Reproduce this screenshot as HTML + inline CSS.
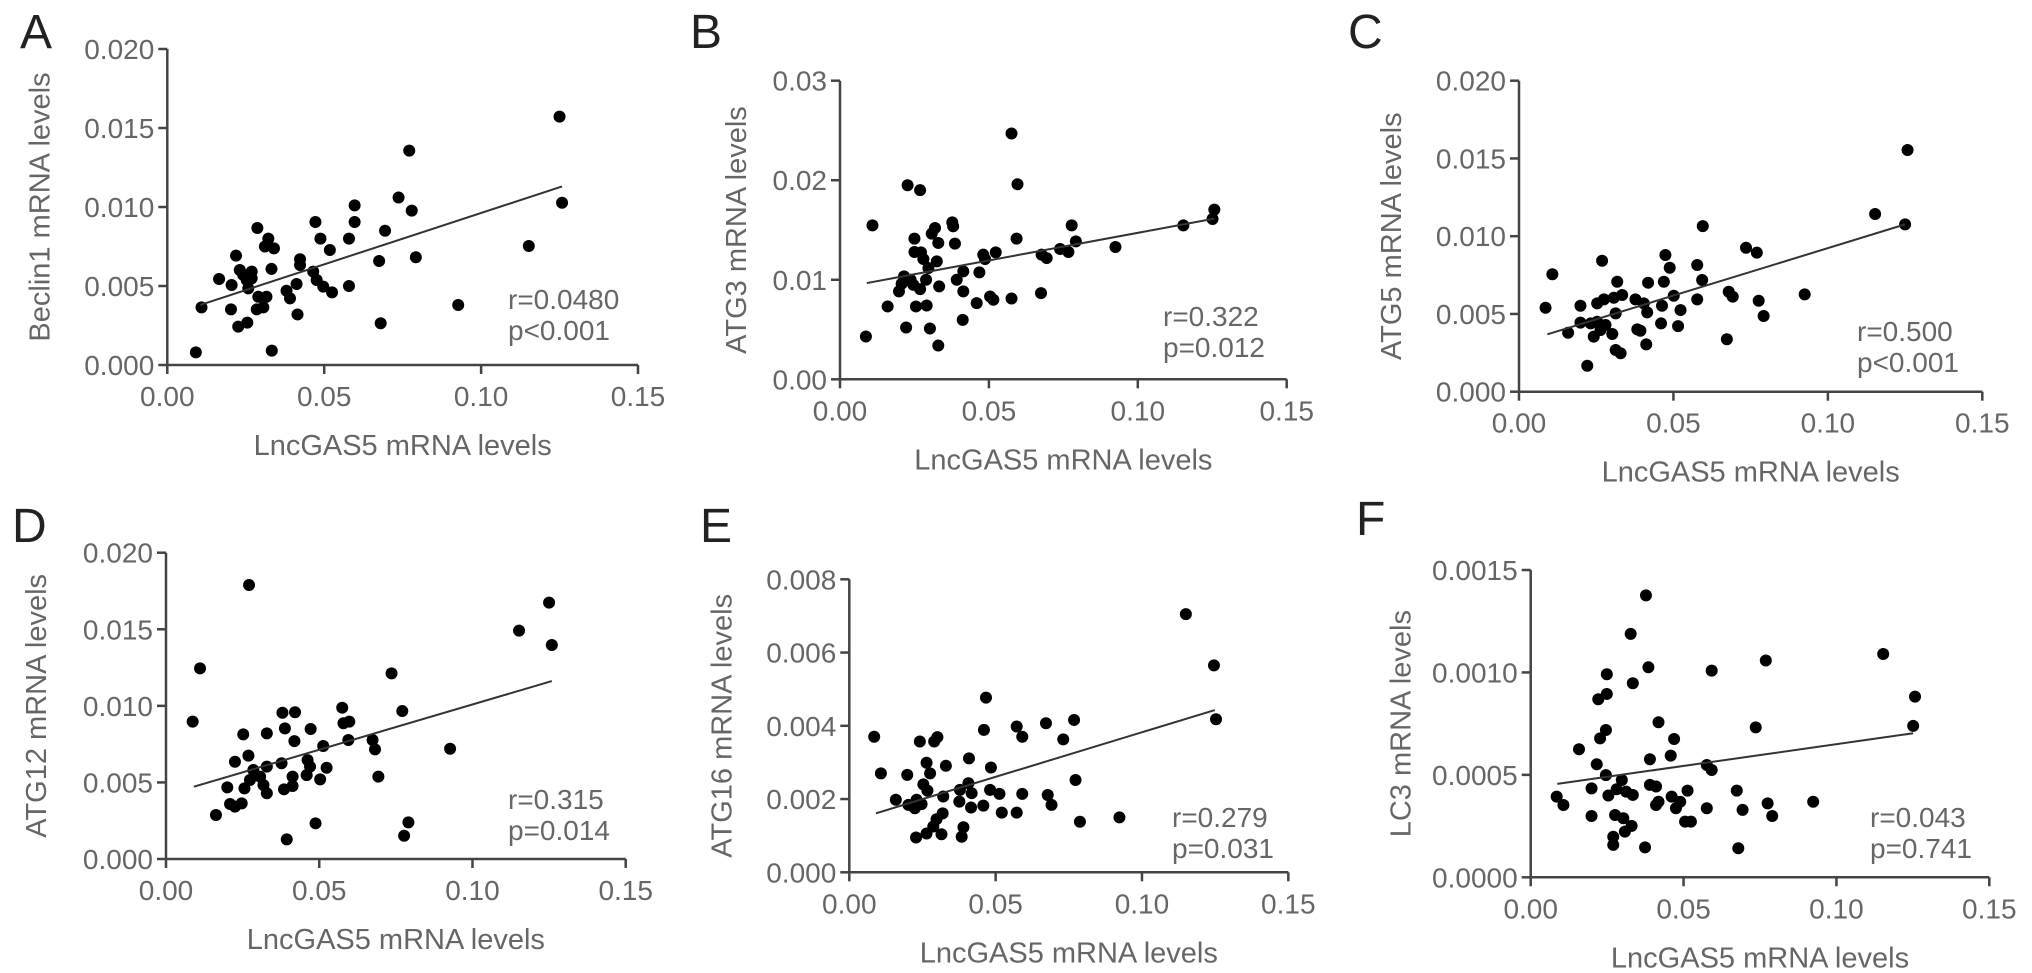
<!DOCTYPE html>
<html><head><meta charset="utf-8"><style>
html,body{margin:0;padding:0;background:#fff;}
svg{display:block;font-family:"Liberation Sans",Arial,sans-serif;}
</style></head><body>
<svg id="fig" width="2032" height="973" viewBox="0 0 2032 973" xmlns="http://www.w3.org/2000/svg"></svg>
<script>
// ---------- data ----------
const xTickLabels = ["0.00","0.05","0.10","0.15"];
const xTickValues = [0, 0.05, 0.10, 0.15];

const aX=[0.125,0.0771,0.1258,0.0737,0.0779,0.0597,0.0597,0.0472,0.0694,0.0287,0.0488,0.0579,0.0518,0.1152,0.0792,0.0675,0.0322,0.0311,0.0340,0.0219,0.0332,0.0423,0.0423,0.0465,0.0231,0.0269,0.0165,0.0205,0.0253,0.0258,0.0476,0.0497,0.0525,0.0579,0.0412,0.0380,0.0391,0.0316,0.0290,0.0109,0.0203,0.0285,0.0306,0.0415,0.0927,0.0226,0.0255,0.0680,0.0091,0.0333,0.0269,0.0242];
const aY=[0.01572,0.01357,0.01027,0.0106,0.00977,0.0101,0.00905,0.00905,0.0085,0.00867,0.0080,0.0080,0.00728,0.00753,0.00682,0.00658,0.0080,0.0075,0.00738,0.00692,0.00608,0.00669,0.00633,0.00591,0.00601,0.00591,0.00544,0.00506,0.00538,0.00485,0.00538,0.00496,0.0046,0.005,0.00513,0.0047,0.00422,0.00432,0.00432,0.00365,0.00352,0.00352,0.00365,0.0032,0.0038,0.00243,0.00268,0.00264,0.0008,0.00091,0.00548,0.0057];
const aFitX=[0.0105,0.1258]; const aFitY=[0.0038,0.0113];
const aTicks=["0.000","0.005","0.010","0.015","0.020"]; const aTickVals=[0,0.005,0.010,0.015,0.020];

const bX=[0.0576,0.0227,0.0269,0.0596,0.1257,0.1251,0.1153,0.0109,0.0377,0.0380,0.0778,0.0319,0.0308,0.0250,0.0593,0.0330,0.0386,0.0792,0.0925,0.0250,0.0272,0.0280,0.0739,0.0767,0.0677,0.0694,0.0481,0.0523,0.0487,0.0325,0.0297,0.0414,0.0468,0.0392,0.0215,0.0237,0.0289,0.0207,0.0246,0.0269,0.0333,0.0198,0.0414,0.0675,0.0459,0.0504,0.0515,0.0576,0.0160,0.0255,0.0291,0.0412,0.0222,0.0302,0.0087,0.0330];
const bY=[0.0247,0.0195,0.0190,0.0196,0.01705,0.0161,0.01547,0.01547,0.01577,0.01537,0.01547,0.0152,0.01463,0.01413,0.01413,0.0137,0.01363,0.01386,0.01329,0.01279,0.01275,0.01208,0.01309,0.01279,0.01252,0.01218,0.01252,0.01275,0.01208,0.01185,0.01118,0.01084,0.01074,0.0100,0.01034,0.0100,0.0100,0.0096,0.0095,0.00906,0.00933,0.00883,0.00883,0.00866,0.00765,0.00832,0.00799,0.00812,0.00732,0.00732,0.00742,0.00597,0.0052,0.0051,0.0043,0.00339];
const bFitX=[0.009,0.1257]; const bFitY=[0.00967,0.01614];
const bTicks=["0.00","0.01","0.02","0.03"]; const bTickVals=[0,0.01,0.02,0.03];

const cX=[0.1258,0.1153,0.1250,0.0595,0.0735,0.0770,0.0474,0.0269,0.0488,0.0577,0.0108,0.0593,0.0418,0.0469,0.0318,0.0679,0.0692,0.0925,0.0501,0.0577,0.0776,0.0334,0.0307,0.0275,0.0253,0.0377,0.0404,0.0463,0.0415,0.0523,0.0313,0.0086,0.0199,0.0792,0.0199,0.0232,0.0253,0.0280,0.0264,0.0302,0.0242,0.0159,0.0460,0.0515,0.0383,0.0393,0.0673,0.0412,0.0313,0.0329,0.0221];
const cY=[0.01554,0.01143,0.01076,0.01065,0.00926,0.00894,0.00879,0.00842,0.00797,0.00815,0.00755,0.00718,0.00701,0.00707,0.00707,0.00643,0.00611,0.00626,0.00617,0.00594,0.00585,0.00622,0.00604,0.00594,0.00568,0.00594,0.00568,0.00553,0.0051,0.00525,0.00504,0.0054,0.00553,0.00487,0.00444,0.00439,0.0045,0.00429,0.00397,0.00371,0.00354,0.00379,0.00439,0.00422,0.00401,0.00392,0.00337,0.00304,0.00268,0.00247,0.00167];
const cFitX=[0.0092,0.125]; const cFitY=[0.00369,0.01076];
const cTicks=["0.000","0.005","0.010","0.015","0.020"]; const cTickVals=[0,0.005,0.010,0.015,0.020];

const dX=[0.0271,0.1250,0.1152,0.1259,0.0111,0.0736,0.0771,0.0087,0.0380,0.0421,0.0575,0.0579,0.0598,0.0388,0.0472,0.0252,0.0329,0.0419,0.0595,0.0674,0.0682,0.0513,0.0927,0.0269,0.0225,0.0377,0.0462,0.0470,0.0524,0.0329,0.0285,0.0307,0.0459,0.0503,0.0693,0.0413,0.0274,0.0318,0.0200,0.0256,0.0385,0.0413,0.0329,0.0209,0.0247,0.0225,0.0163,0.0488,0.0791,0.0777,0.0394];
const dY=[0.01789,0.01674,0.01491,0.01397,0.01245,0.01212,0.00966,0.00897,0.00955,0.00958,0.00988,0.00886,0.00897,0.00853,0.00849,0.00814,0.0082,0.0077,0.00777,0.00777,0.00716,0.00738,0.0072,0.00675,0.00635,0.00625,0.00646,0.00603,0.00596,0.00603,0.00581,0.00538,0.00548,0.0052,0.00538,0.00538,0.00516,0.00483,0.00468,0.00461,0.00455,0.00477,0.00429,0.00359,0.00363,0.00342,0.00287,0.00233,0.00239,0.00152,0.00128];
const dFitX=[0.0091,0.1259]; const dFitY=[0.00472,0.01162];
const dTicks=["0.000","0.005","0.010","0.015","0.020"]; const dTickVals=[0,0.005,0.010,0.015,0.020];

const eX=[0.1150,0.1246,0.1253,0.0467,0.0085,0.0460,0.0572,0.0591,0.0672,0.0768,0.0731,0.0241,0.0290,0.0301,0.0108,0.0198,0.0264,0.0276,0.0330,0.0409,0.0484,0.0253,0.0267,0.0407,0.0159,0.0202,0.0224,0.0247,0.0230,0.0321,0.0378,0.0418,0.0376,0.0416,0.0458,0.0481,0.0513,0.0591,0.0678,0.0691,0.0773,0.0521,0.0572,0.0788,0.0923,0.0319,0.0298,0.0287,0.0228,0.0264,0.0315,0.0390,0.0384];
const eY=[0.00705,0.00565,0.00418,0.00477,0.0037,0.00389,0.00398,0.0037,0.00407,0.00416,0.00363,0.00357,0.00357,0.00369,0.0027,0.00266,0.00299,0.0027,0.00291,0.00311,0.00286,0.0024,0.00223,0.00243,0.00198,0.00184,0.00175,0.00186,0.00198,0.00207,0.00225,0.00216,0.00193,0.00177,0.00182,0.00225,0.00214,0.00214,0.00211,0.00184,0.00252,0.00163,0.00163,0.00138,0.0015,0.00161,0.00145,0.00125,0.00095,0.00106,0.00104,0.00123,0.00097];
const eFitX=[0.0091,0.1249]; const eFitY=[0.00161,0.00443];
const eTicks=["0.000","0.002","0.004","0.006","0.008"]; const eTickVals=[0,0.002,0.004,0.006,0.008];

const fX=[0.0377,0.0327,0.0385,0.0249,0.0334,0.0592,0.0769,0.1153,0.1257,0.1251,0.0221,0.0249,0.0418,0.0736,0.0227,0.0246,0.0469,0.0158,0.0458,0.0390,0.0216,0.0576,0.0592,0.0246,0.0298,0.0199,0.0254,0.0281,0.0312,0.0334,0.0390,0.0410,0.0513,0.0461,0.0489,0.0410,0.0418,0.0475,0.0674,0.0775,0.0924,0.0576,0.0693,0.0790,0.0085,0.0107,0.0199,0.0276,0.0303,0.0330,0.0308,0.0505,0.0524,0.0270,0.0270,0.0374,0.0679];
const fY=[0.001376,0.001188,0.001025,0.000991,0.000947,0.001009,0.001058,0.00109,0.000882,0.000739,0.000869,0.000895,0.000757,0.000732,0.000678,0.000719,0.000675,0.000625,0.000594,0.000576,0.000552,0.000548,0.000524,0.000499,0.000475,0.000434,0.000399,0.000430,0.000418,0.000402,0.000451,0.000443,0.000423,0.000394,0.000369,0.000353,0.000369,0.000337,0.000423,0.000361,0.000369,0.000337,0.000329,0.000299,0.000394,0.000353,0.000299,0.000304,0.000288,0.000251,0.000223,0.000272,0.000272,0.000198,0.000158,0.000146,0.000142];
const fFitX=[0.0087,0.1251]; const fFitY=[0.000456,0.000703];
const fTicks=["0.0000","0.0005","0.0010","0.0015"]; const fTickVals=[0,0.0005,0.0010,0.0015];

const rLabels=["r=0.0480","r=0.322","r=0.500","r=0.315","r=0.279","r=0.043"];
const pLabels=["p<0.001","p=0.012","p<0.001","p=0.014","p=0.031","p=0.741"];

// ---------- layout ----------
const NS="http://www.w3.org/2000/svg";
const svg=document.getElementById('fig');
function mk(tag,attrs,parent){const e=document.createElementNS(NS,tag);for(const k in attrs)e.setAttribute(k,attrs[k]);(parent||svg).appendChild(e);return e;}

const panels=[
 {id:'a',letter:'A',lx:20,lb:48,ytitle:'Beclin1 mRNA levels',x0:167.3,x1:638,y0:365,y1:49,ymax:0.020,X:aX,Y:aY,fx:aFitX,fy:aFitY,tl:aTicks,tv:aTickVals,sx:508,sb:309,ttl:127},
 {id:'b',letter:'B',lx:690,lb:48,ytitle:'ATG3 mRNA levels',x0:840,x1:1286.7,y0:379.3,y1:80.7,ymax:0.03,X:bX,Y:bY,fx:bFitX,fy:bFitY,tl:bTicks,tv:bTickVals,sx:1163,sb:326,ttl:103},
 {id:'c',letter:'C',lx:1348,lb:48,ytitle:'ATG5 mRNA levels',x0:1519,x1:1982.3,y0:391.7,y1:80.7,ymax:0.020,X:cX,Y:cY,fx:cFitX,fy:cFitY,tl:cTicks,tv:cTickVals,sx:1857,sb:341,ttl:127},
 {id:'d',letter:'D',lx:12,lb:542,ytitle:'ATG12 mRNA levels',x0:166,x1:625.7,y0:859,y1:552.7,ymax:0.020,X:dX,Y:dY,fx:dFitX,fy:dFitY,tl:dTicks,tv:dTickVals,sx:508,sb:809,ttl:129},
 {id:'e',letter:'E',lx:700,lb:542,ytitle:'ATG16 mRNA levels',x0:849.3,x1:1288.3,y0:872.3,y1:579.3,ymax:0.008,X:eX,Y:eY,fx:eFitX,fy:eFitY,tl:eTicks,tv:eTickVals,sx:1172,sb:827,ttl:127},
 {id:'f',letter:'F',lx:1356,lb:535,ytitle:'LC3 mRNA levels',x0:1530.7,x1:1989.3,y0:877.3,y1:570,ymax:0.0015,X:fX,Y:fY,fx:fFitX,fy:fFitY,tl:fTicks,tv:fTickVals,sx:1870,sb:827,ttl:129}
];

panels.forEach((p,i)=>{
  const g=mk('g',{});
  
  
  const sx=v=>p.x0+(v/0.15)*(p.x1-p.x0);
  const sy=v=>p.y0-(v/p.ymax)*(p.y0-p.y1);
  const lab=mk('text',{x:p.lx,y:p.lb,'font-size':48,fill:'#222'},g);lab.textContent=p.letter;
  
  
  // axes
  const ya=mk('line',{x1:p.x0,y1:p.y1,x2:p.x0,y2:p.y0,stroke:'#444','stroke-width':2.5},g);
  
  
  const xa=mk('line',{x1:p.x0,y1:p.y0,x2:p.x1,y2:p.y0,stroke:'#444','stroke-width':2.5},g);
  
  
  p.tv.forEach((v,k)=>{
    const y=sy(v);
    mk('line',{x1:p.x0-9,y1:y,x2:p.x0,y2:y,stroke:'#444','stroke-width':2.5},g);
    const t=mk('text',{x:p.x0-13,y:y+10,'font-size':28,fill:'#666','text-anchor':'end'},g);
    t.textContent=p.tl[k];
    
    
  });
  xTickValues.forEach((v,k)=>{
    const x=sx(v);
    mk('line',{x1:x,y1:p.y0,x2:x,y2:p.y0+9,stroke:'#444','stroke-width':2.5},g);
    const t=mk('text',{x:x,y:p.y0+41,'font-size':28,fill:'#666','text-anchor':'middle'},g);
    t.textContent=xTickLabels[k];
    
    
  });
  const xt=mk('text',{x:(p.x0+p.x1)/2,y:p.y0+90,'font-size':29,fill:'#666','text-anchor':'middle'},g);
  xt.textContent='LncGAS5 mRNA levels';
  
  
  const cx=p.x0-p.ttl, cy=(p.y0+p.y1)/2;
  const yt=mk('text',{x:cx,y:cy,'font-size':29,fill:'#666','text-anchor':'middle','dominant-baseline':'central',transform:'rotate(-90 '+cx+' '+cy+')'},g);
  yt.textContent=p.ytitle;
  
  
  // points
  p.X.forEach((xv,k)=>{
    const c=mk('circle',{cx:sx(xv),cy:sy(p.Y[k]),r:6,fill:'#000'},g);
    
    
  });
  const fl=mk('line',{x1:sx(p.fx[0]),y1:sy(p.fy[0]),x2:sx(p.fx[1]),y2:sy(p.fy[1]),stroke:'#333','stroke-width':2},g);
  
  
  const r=mk('text',{x:p.sx,y:p.sb,'font-size':28,fill:'#666'},g);r.textContent=rLabels[i];
  
  
  const pv=mk('text',{x:p.sx,y:p.sb+31,'font-size':28,fill:'#666'},g);pv.textContent=pLabels[i];
  
  
});
</script>
</body></html>
